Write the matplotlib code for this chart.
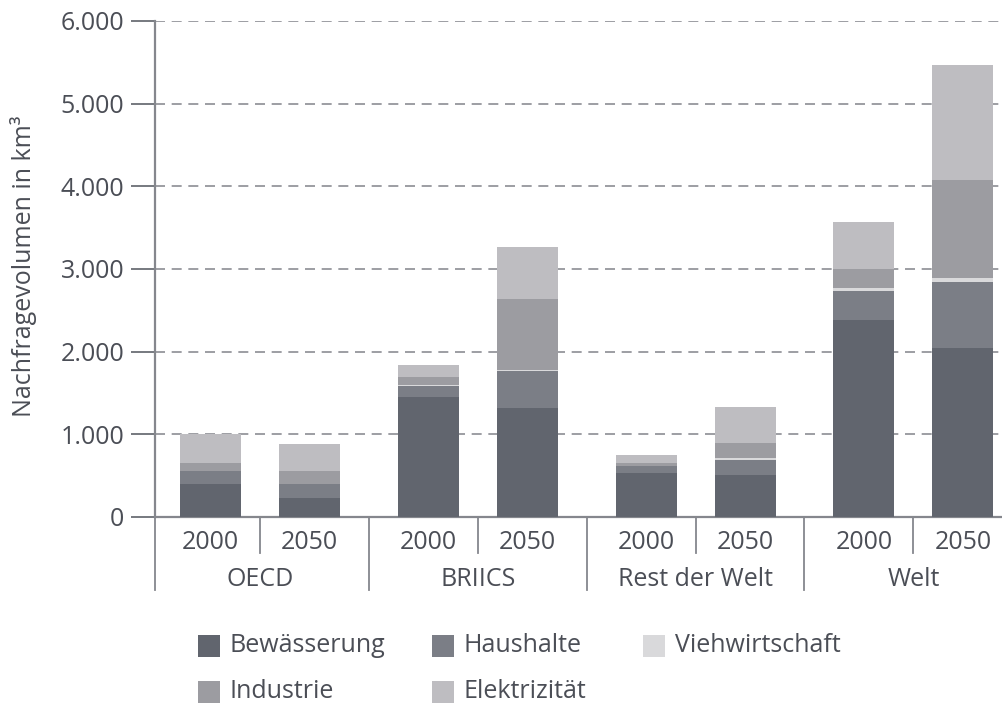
import matplotlib
matplotlib.use("Agg")
import matplotlib.pyplot as plt
from matplotlib.patches import Rectangle

plt.rcParams['font.family'] = ['Open Sans', 'DejaVu Sans']

groups = ['OECD', 'BRIICS', 'Rest der Welt', 'Welt']
years = ['2000', '2050']
series = ['Bewässerung', 'Haushalte', 'Viehwirtschaft', 'Industrie', 'Elektrizität']

# Werte je Balken: OECD 2000, OECD 2050, BRIICS 2000, BRIICS 2050, RdW 2000, RdW 2050, Welt 2000, Welt 2050
bewaesserung = [399, 230, 1450, 1318, 532, 508, 2383, 2044]
haushalte = [161, 169, 135, 448, 85, 182, 355, 799]
viehwirtschaft = [0, 0, 10, 16, 0, 23, 32, 48]
industrie = [97, 157, 99, 855, 36, 182, 230, 1185]
elektrizitaet = [343, 331, 145, 633, 97, 436, 568, 1391]

colors = ['#61656e', '#7b7e86', '#d9d9db', '#9c9ca1', '#bebdc1']
text_col = '#4b4e56'
line_col = '#85878d'
fs = 18

W, H = 1003, 708
fig = plt.figure(figsize=(W / 100, H / 100), dpi=100)
ax = fig.add_axes([155 / W, (H - 517) / H, 848 / W, 496 / H])

xs = []
for g in range(len(groups)):
    for j in range(len(years)):
        xs.append(0.56 + g * 2.2 + j)

data = [bewaesserung, haushalte, viehwirtschaft, industrie, elektrizitaet]
bottom = [0] * len(xs)
for vals, c, name in zip(data, colors, series):
    ax.bar(xs, vals, width=0.616, bottom=bottom, color=c, label=name, zorder=3, linewidth=0)
    bottom = [b + v for b, v in zip(bottom, vals)]

ax.set_xlim(0, 848 / 99)
ax.set_ylim(0, 6000)
yt = [0, 1000, 2000, 3000, 4000, 5000, 6000]
ax.set_yticks(yt)
ax.set_yticklabels([f'{v:,}'.replace(',', '.') for v in yt], fontsize=fs, color=text_col)
ax.tick_params(axis='y', length=17, width=1.3, color='#6b6e75', pad=5)
ax.set_xticks([])

for s in ['top', 'right']:
    ax.spines[s].set_visible(False)
for s in ['left', 'bottom']:
    ax.spines[s].set_color(line_col)
    ax.spines[s].set_linewidth(1.6)
ax.spines['bottom'].set_zorder(2)

for v in yt[1:]:
    ax.axhline(v, color='#8c8e94', lw=1.2, ls=(0, (6, 4)), zorder=1)

trans = ax.get_xaxis_transform()
# Trennlinien unter der Achse
ax.plot([0, 0], [0, -0.147], transform=trans, color=line_col, lw=1.3, clip_on=False)
for g in range(len(groups)):
    base = 0.56 + g * 2.2
    ax.plot([base + 0.5] * 2, [0, -0.0726], transform=trans, color=line_col, lw=1.3, clip_on=False)
    if g < len(groups) - 1:
        ax.plot([base + 1.6] * 2, [0, -0.147], transform=trans, color=line_col, lw=1.3, clip_on=False)
    for j, yr in enumerate(years):
        ax.text(base + j, -0.052, yr, transform=trans, ha='center', va='center',
                fontsize=fs, color=text_col)
    ax.text(base + 0.5, -0.125, groups[g], transform=trans, ha='center', va='center',
            fontsize=fs, color=text_col)

fig.text(24 / W, (H - 266) / H, 'Nachfragevolumen in km³', rotation=90,
         ha='center', va='center', fontsize=fs, color=text_col)

# Legende
leg_pos = [(198, 646), (432, 646), (643, 646), (198, 692), (432, 692)]
for (px, py), c, name in zip(leg_pos, colors, series):
    fig.add_artist(Rectangle((px / W, (H - py - 11) / H), 22 / W, 22 / H,
                             transform=fig.transFigure, color=c, lw=0))
    fig.text((px + 32) / W, (H - py) / H, name, ha='left', va='center',
             fontsize=fs, color=text_col)

fig.savefig('out.png', dpi=100)
